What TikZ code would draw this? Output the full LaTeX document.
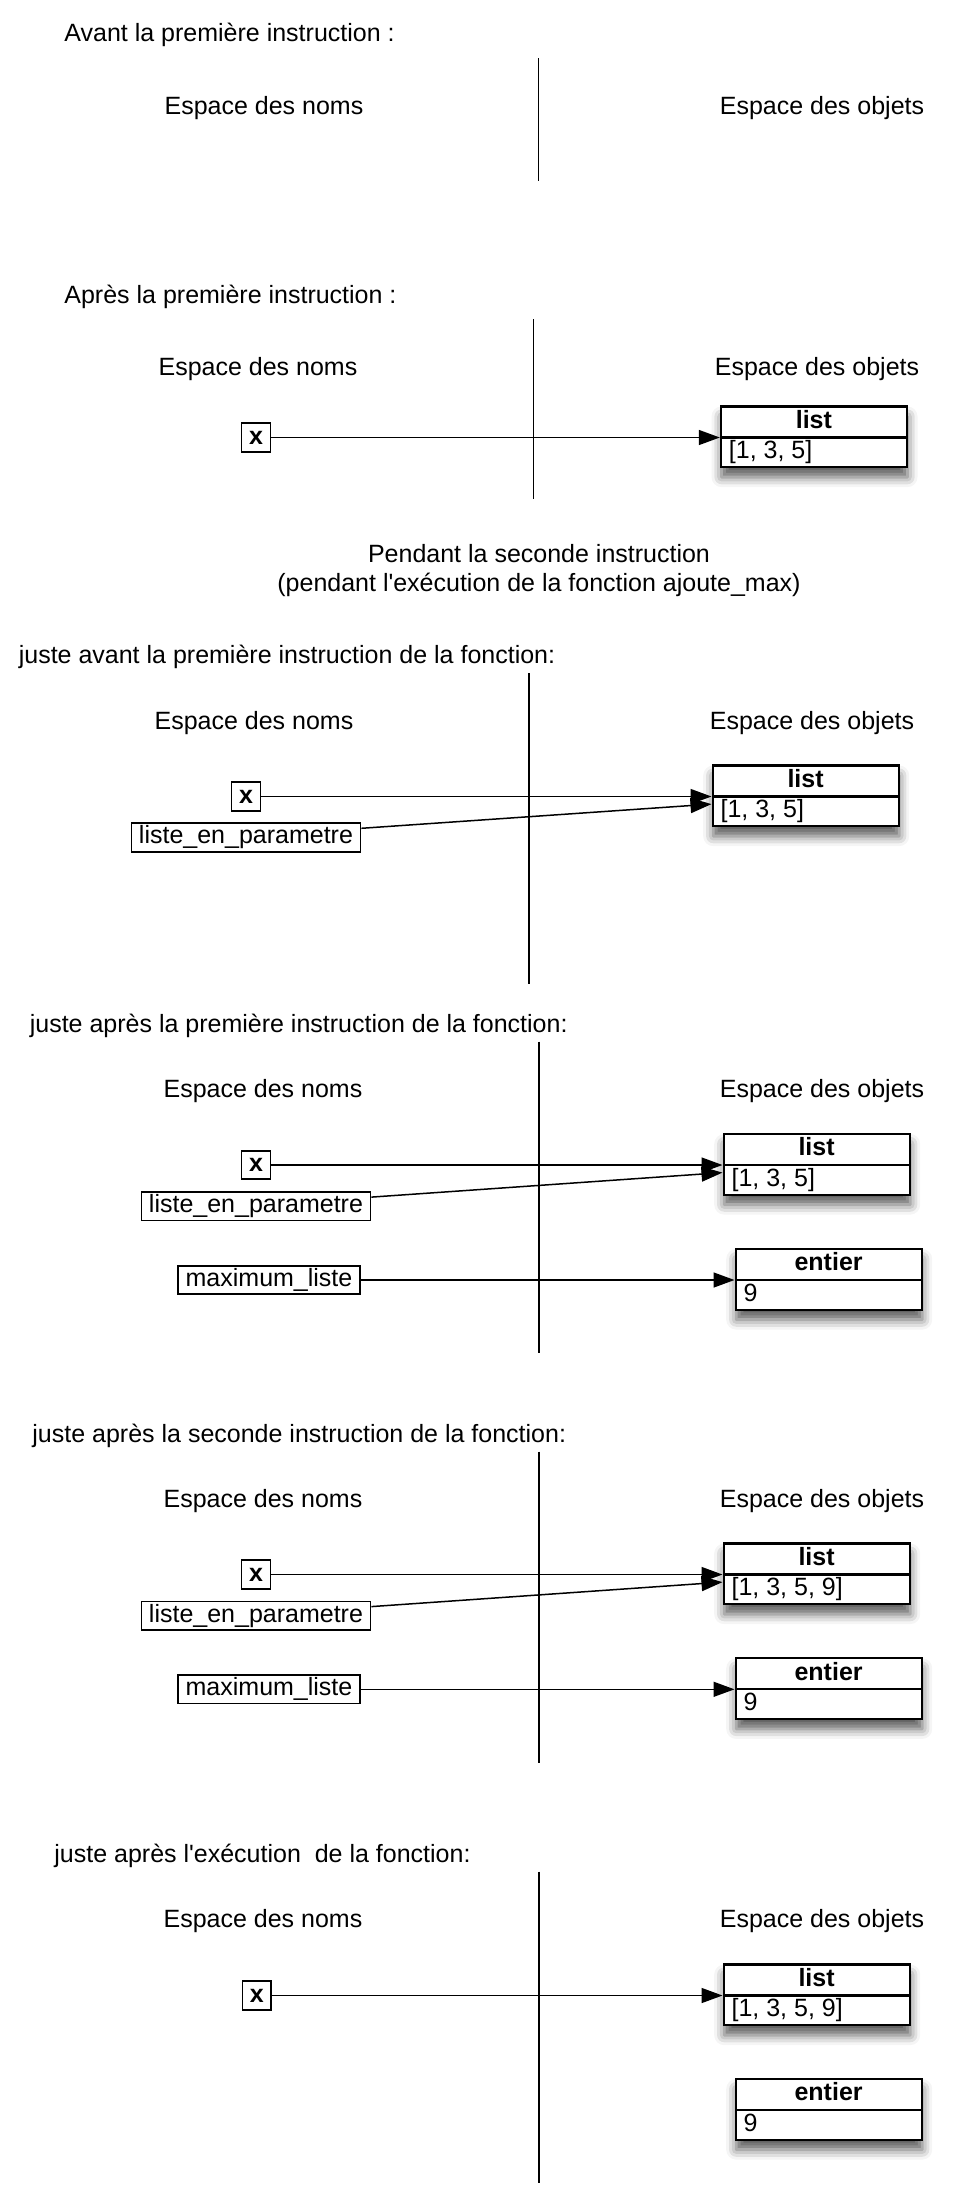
\documentclass[tikz,border=0pt]{standalone}
\usepackage{fontspec}
\setmainfont{Liberation Sans}[Ligatures=TeXOff]
\usetikzlibrary{positioning,shapes.multipart,arrows.meta,shadows.blur}

\newcommand{\objhead}[1]{\makebox[85pt][c]{\rule[-3.5pt]{0pt}{13.4pt}\textbf{#1}}}
\newcommand{\objbody}[1]{\makebox[85pt][l]{\rule[-3.2pt]{0pt}{12.7pt}#1}}

\begin{document}
\begin{tikzpicture}[
    x=0.5pt, y=-0.5pt,
    every node/.style={font=\fontsize{12.5pt}{15pt}\selectfont},
    stage/.style={anchor=base west, inner sep=0pt},
    zone/.style={anchor=base, inner sep=0pt},
    varbox/.style={draw, fill=white, line width=0.8pt, inner xsep=3.75pt, inner ysep=0pt, minimum height=14.25pt},
    objbox/.style={rectangle split, rectangle split parts=2, draw, fill=white, line width=1.1pt, inner xsep=4pt, inner ysep=0.5pt, anchor=text split west,
        blur shadow={shadow xshift=0.3pt, shadow yshift=-5pt, shadow blur radius=5pt, shadow opacity=65}},
    pointer/.style={-{Triangle[length=10.5pt,width=7.5pt]}, line width=0.75pt},
    divider/.style={line width=0.65pt}
]
\useasboundingbox (0,0) rectangle (960,2206);

% Avant la premiere instruction
\node[stage] (t_avant) at (64,41.7) {Avant la première instruction :};
\draw[divider] (538.5,58.3) -- (538.5,180.7);
\node[zone] (noms_a) at (264,114.3) {Espace des noms};
\node[zone] (objets_a) at (822,114.3) {Espace des objets};

% Apres la premiere instruction
\node[stage] (t_apres) at (64,303.3) {Après la première instruction :};
\draw[divider] (533.3,319) -- (533.3,499);
\node[zone] (noms_b) at (258,375) {Espace des noms};
\node[zone] (objets_b) at (817,375) {Espace des objets};
\node[varbox, minimum width=13.45pt] (x_b) at (256,437.5) {\textbf{x}};
\node[objbox] (list_b) at (719.8,437.5) {\objhead{list}\nodepart{two}\objbody{[1, 3, 5]}};
\draw[pointer] (x_b) -- (list_b.text split west);

% Pendant la seconde instruction
\node[zone] (pendant_a) at (539,562.7) {Pendant la seconde instruction};
\node[zone] (pendant_b) at (539,591) {(pendant l'exécution de la fonction ajoute\_max)};

% juste avant la premiere instruction de la fonction
\node[stage] (t_avant_fct) at (18.4,663.3) {juste avant la première instruction de la fonction:};
\draw[divider] (529,673.3) -- (529,984.3);
\node[zone] (noms_c) at (254,729) {Espace des noms};
\node[zone] (objets_c) at (812,729) {Espace des objets};
\node[varbox, minimum width=13.45pt] (x_c) at (246,796.5) {\textbf{x}};
\node[varbox] (param_c) at (246,837.5) {liste\_en\_parametre};
\node[objbox] (list_c) at (711.5,796.5) {\objhead{list}\nodepart{two}\objbody{[1, 3, 5]}};
\draw[pointer] (x_c) -- (list_c.text split west);
\draw[pointer] ([yshift=4.6pt]param_c.east) -- ([yshift=-3.8pt]list_c.text split west);

% juste apres la premiere instruction de la fonction
\node[stage] (t_apres_fct) at (29.4,1032.7) {juste après la première instruction de la fonction:};
\draw[divider] (539,1041.7) -- (539,1353.3);
\node[zone] (noms_d) at (263,1097.7) {Espace des noms};
\node[zone] (objets_d) at (822,1097.7) {Espace des objets};
\node[varbox, minimum width=13.45pt] (x_d) at (256,1165) {\textbf{x}};
\node[varbox] (param_d) at (256,1206.3) {liste\_en\_parametre};
\node[varbox] (max_d) at (269,1280) {maximum\_liste};
\node[objbox] (list_d) at (722.5,1165) {\objhead{list}\nodepart{two}\objbody{[1, 3, 5]}};
\node[objbox] (entier_d) at (734.5,1280) {\objhead{entier}\nodepart{two}\objbody{9}};
\draw[pointer] (x_d) -- (list_d.text split west);
\draw[pointer] ([yshift=4.6pt]param_d.east) -- ([yshift=-3.8pt]list_d.text split west);
\draw[pointer] (max_d) -- (entier_d.text split west);

% juste apres la seconde instruction de la fonction
\node[stage] (t_seconde_fct) at (32,1442.3) {juste après la seconde instruction de la fonction:};
\draw[divider] (539,1451.7) -- (539,1762.7);
\node[zone] (noms_e) at (263,1507.7) {Espace des noms};
\node[zone] (objets_e) at (822,1507.7) {Espace des objets};
\node[varbox, minimum width=13.45pt] (x_e) at (256,1574.5) {\textbf{x}};
\node[varbox] (param_e) at (256,1615.8) {liste\_en\_parametre};
\node[varbox] (max_e) at (269,1689.3) {maximum\_liste};
\node[objbox] (list_e) at (722.5,1574.5) {\objhead{list}\nodepart{two}\objbody{[1, 3, 5, 9]}};
\node[objbox] (entier_e) at (734.5,1689.3) {\objhead{entier}\nodepart{two}\objbody{9}};
\draw[pointer] (x_e) -- (list_e.text split west);
\draw[pointer] ([yshift=4.6pt]param_e.east) -- ([yshift=-3.8pt]list_e.text split west);
\draw[pointer] (max_e) -- (entier_e.text split west);

% juste apres l'execution de la fonction
\node[stage] (t_fin_fct) at (54,1862.7) {juste après l'exécution\ \ de la fonction:};
\draw[divider] (539,1871.7) -- (539,2183.3);
\node[zone] (noms_f) at (263,1927.7) {Espace des noms};
\node[zone] (objets_f) at (822,1927.7) {Espace des objets};
\node[varbox, minimum width=13.45pt] (x_f) at (256.8,1995.5) {\textbf{x}};
\node[objbox] (list_f) at (722.5,1995.5) {\objhead{list}\nodepart{two}\objbody{[1, 3, 5, 9]}};
\node[objbox] (entier_f) at (734.5,2110) {\objhead{entier}\nodepart{two}\objbody{9}};
\draw[pointer] (x_f) -- (list_f.text split west);

\end{tikzpicture}
\end{document}
